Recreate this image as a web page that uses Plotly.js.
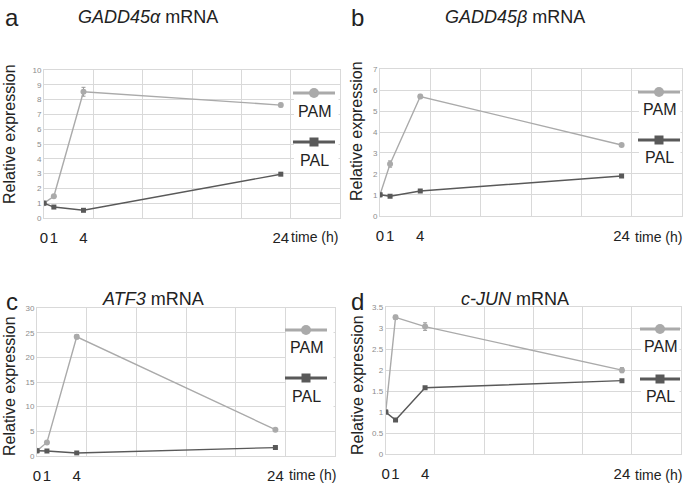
<!DOCTYPE html>
<html><head><meta charset="utf-8">
<script src="https://cdn.plot.ly/plotly-3.0.1.min.js"></script>
<style>html,body{margin:0;padding:0;background:#fff}#chart{width:685px;height:486px}</style>
</head><body><div id="chart"></div>
<script>
// ---- data ----
const times = [0, 1, 4, 24];
const timeLabels = ['0', '1', '4', '24'];
const seriesNames = ['PAM', 'PAL'];
const panelLetters = ['a', 'b', 'c', 'd'];
const panelGenes = ['GADD45α', 'GADD45β', 'ATF3', 'c-JUN'];

const gadd45aPAM = [1, 1.47, 8.53, 7.63];
const gadd45aPAMErr = [0.03, 0.06, 0.3, 0.12];
const gadd45aPAL = [1, 0.74, 0.52, 2.96];
const gadd45aPALErr = [0.02, 0.03, 0.03, 0.04];

const gadd45bPAM = [1, 2.47, 5.7, 3.38];
const gadd45bPAMErr = [0.03, 0.15, 0.1, 0.04];
const gadd45bPAL = [1, 0.93, 1.18, 1.9];
const gadd45bPALErr = [0.02, 0.03, 0.03, 0.04];

const atf3PAM = [1, 2.7, 24.2, 5.3];
const atf3PAMErr = [0.1, 0.2, 0.45, 0.2];
const atf3PAL = [1, 0.95, 0.55, 1.65];
const atf3PALErr = [0.05, 0.05, 0.05, 0.08];

const cjunPAM = [1, 3.26, 3.04, 2.0];
const cjunPAMErr = [0.02, 0.05, 0.09, 0.06];
const cjunPAL = [1, 0.81, 1.58, 1.75];
const cjunPALErr = [0.01, 0.02, 0.02, 0.02];

const yTop = [10, 7, 30, 3.5];
const yStep = [1, 1, 5, 0.5];

// ---- layout helpers ----
const W = 685, H = 486;
const px = v => v / W;
const py = v => 1 - v / H;

// plot areas in pixels: [left, right, top, bottom]
const boxes = [
  [44, 340, 70, 218],
  [380, 682, 69.3, 215.7],
  [37, 335, 308.3, 455.7],
  [385.7, 681, 307.3, 454]
];
const legendPos = [ // [lineStart, lineEnd, pamY, pamTextY, palY, palTextY]
  [293, 335, 93, 111, 142, 160],
  [638, 680, 92, 109, 140, 158],
  [285, 327, 330, 347, 378, 396],
  [640, 680, 329, 346, 379, 396]
];
const titlePos = [ // [letterX, letterY, titleX, titleY]
  [12, 18, 148, 17],
  [357, 18, 515, 17],
  [12, 301, 153, 299],
  [357, 301, 515, 299]
];
const ylabPos = [[10, 134], [357, 131], [9, 386], [357, 385]];
const timeRight = [[340, 237], [684, 237], [338, 475], [684, 475]];

const pamColor = '#aaaaaa', palColor = '#595959', gridColor = '#d9d9d9';
const bigFont = 'Liberation Sans, Arial, sans-serif';

const allPAM = [gadd45aPAM, gadd45bPAM, atf3PAM, cjunPAM];
const allPAMErr = [gadd45aPAMErr, gadd45bPAMErr, atf3PAMErr, cjunPAMErr];
const allPAL = [gadd45aPAL, gadd45bPAL, atf3PAL, cjunPAL];
const allPALErr = [gadd45aPALErr, gadd45bPALErr, atf3PALErr, cjunPALErr];

const traces = [];
const layout = {
  width: W, height: H,
  margin: {l: 0, r: 0, t: 0, b: 0},
  paper_bgcolor: '#fff', plot_bgcolor: '#fff',
  showlegend: false,
  annotations: [], shapes: []
};

for (let i = 0; i < 4; i++) {
  const sfx = i === 0 ? '' : String(i + 1);
  const b = boxes[i];
  traces.push({
    x: times, y: allPAM[i], xaxis: 'x' + sfx, yaxis: 'y' + sfx,
    type: 'scatter', mode: 'lines+markers', name: seriesNames[0],
    line: {color: pamColor, width: 1.4},
    marker: {symbol: 'circle', size: 6, color: pamColor},
    error_y: {type: 'data', array: allPAMErr[i], color: '#999', thickness: 1, width: 2}
  });
  traces.push({
    x: times, y: allPAL[i], xaxis: 'x' + sfx, yaxis: 'y' + sfx,
    type: 'scatter', mode: 'lines+markers', name: seriesNames[1],
    line: {color: palColor, width: 1.4},
    marker: {symbol: 'square', size: 5, color: palColor},
    error_y: {type: 'data', array: allPALErr[i], color: '#666', thickness: 1, width: 2}
  });
  layout['xaxis' + sfx] = {
    domain: [px(b[0]), px(b[1])], anchor: 'y' + sfx,
    range: [0, 30], fixedrange: true,
    tickmode: 'array', tickvals: times, ticktext: timeLabels, tickangle: 0,
    showgrid: false, zeroline: false,
    showline: true, linecolor: gridColor, linewidth: 1, mirror: true,
    ticks: 'outside', ticklen: 6, tickcolor: 'rgba(0,0,0,0)',
    tickfont: {family: bigFont, size: 15, color: '#222'},
    minor: {tickmode: 'linear', tick0: 0, dtick: 5, showgrid: true, gridcolor: gridColor, gridwidth: 1, ticks: ''}
  };
  layout['yaxis' + sfx] = {
    domain: [py(b[3]), py(b[2])], anchor: 'x' + sfx,
    range: [0, yTop[i]], dtick: yStep[i], fixedrange: true,
    showgrid: true, gridcolor: gridColor, gridwidth: 1, zeroline: false,
    showline: true, linecolor: gridColor, linewidth: 1, mirror: true,
    ticks: '', ticklen: 0,
    tickfont: {family: 'Liberation Sans, Arial, sans-serif', size: 8, color: '#8c8c8c'}
  };

  // titles
  const tp = titlePos[i];
  layout.annotations.push({
    xref: 'paper', yref: 'paper', x: px(tp[0]), y: py(tp[1]), xanchor: 'center', yanchor: 'middle',
    text: panelLetters[i], showarrow: false, font: {family: bigFont, size: 24, color: '#222'}
  });
  layout.annotations.push({
    xref: 'paper', yref: 'paper', x: px(tp[2]), y: py(tp[3]), xanchor: 'center', yanchor: 'middle',
    text: '<i>' + panelGenes[i] + '</i> mRNA', showarrow: false, font: {family: bigFont, size: 18, color: '#222'}
  });
  // y label
  layout.annotations.push({
    xref: 'paper', yref: 'paper', x: px(ylabPos[i][0]), y: py(ylabPos[i][1]), xanchor: 'center', yanchor: 'middle',
    text: 'Relative expression', textangle: -90, showarrow: false, font: {family: bigFont, size: 16, color: '#222'}
  });
  // time label
  layout.annotations.push({
    xref: 'paper', yref: 'paper', x: px(timeRight[i][0]), y: py(timeRight[i][1]), xanchor: 'right', yanchor: 'middle',
    text: 'time (h)', showarrow: false, font: {family: bigFont, size: 14, color: '#222'}
  });

  // legend
  const lp = legendPos[i];
  const cx = (lp[0] + lp[1]) / 2;
  const entries = [
    [lp[2], lp[3], pamColor, 'circle', 10, seriesNames[0]],
    [lp[4], lp[5], palColor, 'rect', 9, seriesNames[1]]
  ];
  entries.forEach(e => {
    layout.shapes.push({
      type: 'rect', xref: 'paper', yref: 'paper', layer: 'above',
      x0: px(lp[0] + 1), x1: px(b[1] - 1.5), y0: py(e[1] + 11), y1: py(e[0] - 8),
      line: {width: 0}, fillcolor: '#fff'
    });
    layout.shapes.push({
      type: 'line', xref: 'paper', yref: 'paper', layer: 'above',
      x0: px(lp[0]), x1: px(lp[1]), y0: py(e[0]), y1: py(e[0]),
      line: {color: e[2], width: 3}
    });
    layout.shapes.push({
      type: e[3], xref: 'paper', yref: 'paper', layer: 'above',
      xsizemode: 'pixel', ysizemode: 'pixel', xanchor: px(cx), yanchor: py(e[0]),
      x0: -e[4] / 2, x1: e[4] / 2, y0: -e[4] / 2, y1: e[4] / 2,
      line: {width: 0}, fillcolor: e[2]
    });
    layout.annotations.push({
      xref: 'paper', yref: 'paper', x: px(cx), y: py(e[1]), xanchor: 'center', yanchor: 'middle',
      text: e[5], showarrow: false, font: {family: bigFont, size: 16, color: '#222'}
    });
  });
}

Plotly.newPlot('chart', traces, layout, {staticPlot: true, displayModeBar: false});
</script></body></html>
